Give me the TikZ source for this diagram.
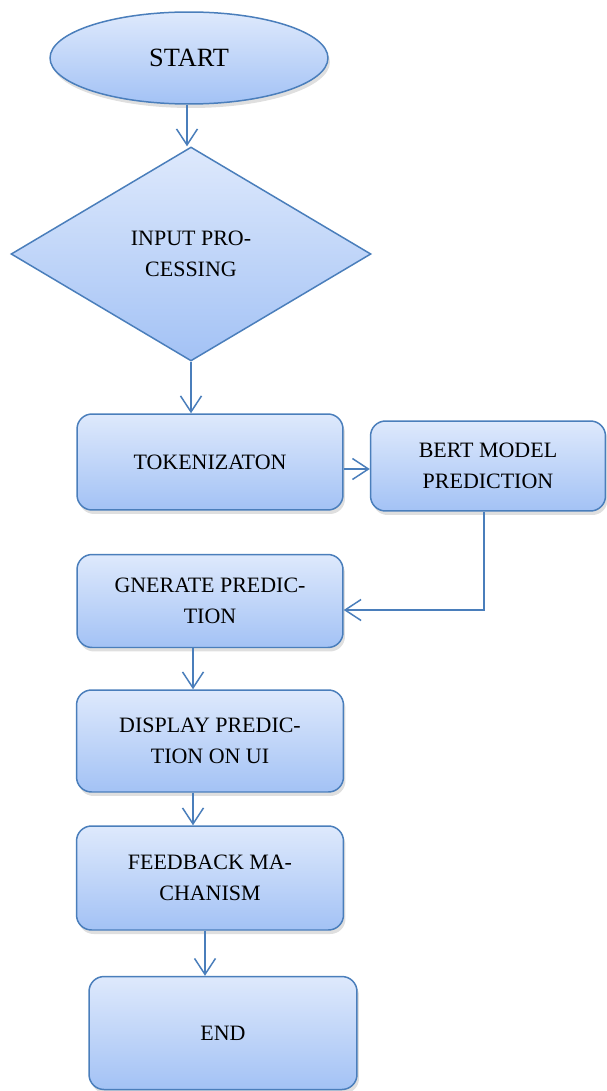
\documentclass[tikz,border=0pt]{standalone}
\usepackage{fontspec}
\setmainfont{Liberation Serif}
\usepackage{tikz}
\usetikzlibrary{arrows.meta, positioning, shapes.geometric, shadows}

\definecolor{lineblue}{HTML}{4A7EBB}
\definecolor{filltop}{HTML}{DEE9FC}
\definecolor{fillbot}{HTML}{A3C2F5}

\begin{document}
\begin{tikzpicture}[
        x=0.02cm, y=-0.02cm,
        >={Straight Barb[length=3.2mm, width=4.2mm, line width=0.85pt]},
        every node/.style={font=\fontsize{12.5}{17.5}\selectfont, align=center, text=black},
        block/.style={draw=lineblue, line width=0.85pt, top color=filltop, bottom color=fillbot,
            inner sep=0pt},
        procbox/.style={block, rectangle, rounded corners=0.3cm,
            drop shadow={shadow xshift=0.4mm, shadow yshift=-0.8mm, opacity=0.25}},
        flow/.style={->, draw=lineblue, line width=0.85pt}
    ]

    % Fix picture size
    \useasboundingbox (0,0) rectangle (606,1091);

    % Draw flowchart nodes
    \node[block, ellipse, minimum width=5.56cm, minimum height=1.84cm,
        drop shadow={shadow xshift=0.4mm, shadow yshift=-0.8mm, opacity=0.25},
        font=\fontsize{15}{18}\selectfont] (start) at (189,58) {START};
    \node[block, diamond, minimum width=7.2cm, minimum height=4.28cm] (input) at (191,254) {INPUT PRO-\\CESSING};
    \node[procbox, minimum width=5.32cm, minimum height=1.92cm] (token) at (210,462) {TOKENIZATON};
    \node[procbox, minimum width=4.7cm, minimum height=1.8cm] (bert) at (488,466) {BERT MODEL\\PREDICTION};
    \node[procbox, minimum width=5.32cm, minimum height=1.86cm] (gen) at (210,601) {GNERATE PREDIC-\\TION};
    \node[procbox, minimum width=5.34cm, minimum height=2.04cm] (disp) at (210,741) {DISPLAY PREDIC-\\TION ON UI};
    \node[procbox, minimum width=5.34cm, minimum height=2.08cm] (feed) at (210,878) {FEEDBACK MA-\\CHANISM};
    \node[procbox, minimum width=5.36cm, minimum height=2.26cm] (endn) at (223,1033) {END};

    % Draw connectors
    \draw[flow] ([xshift=-0.04cm]start.south) -- ([xshift=-0.04cm]start.south |- input.north);
    \draw[flow] (input.south) -- (input.south |- token.north);
    \draw[flow] ([yshift=-0.14cm]token.east) -- ([yshift=-0.14cm]token.east -| bert.west);
    \draw[flow] ([xshift=-0.08cm]bert.south) |- ([yshift=-0.18cm]gen.east);
    \draw[flow] ([xshift=-0.34cm]gen.south) -- ([xshift=-0.34cm]disp.north);
    \draw[flow] ([xshift=-0.34cm]disp.south) -- ([xshift=-0.34cm]feed.north);
    \draw[flow] ([xshift=-0.1cm]feed.south) -- ([xshift=-0.1cm]feed.south |- endn.north);

\end{tikzpicture}
\end{document}
